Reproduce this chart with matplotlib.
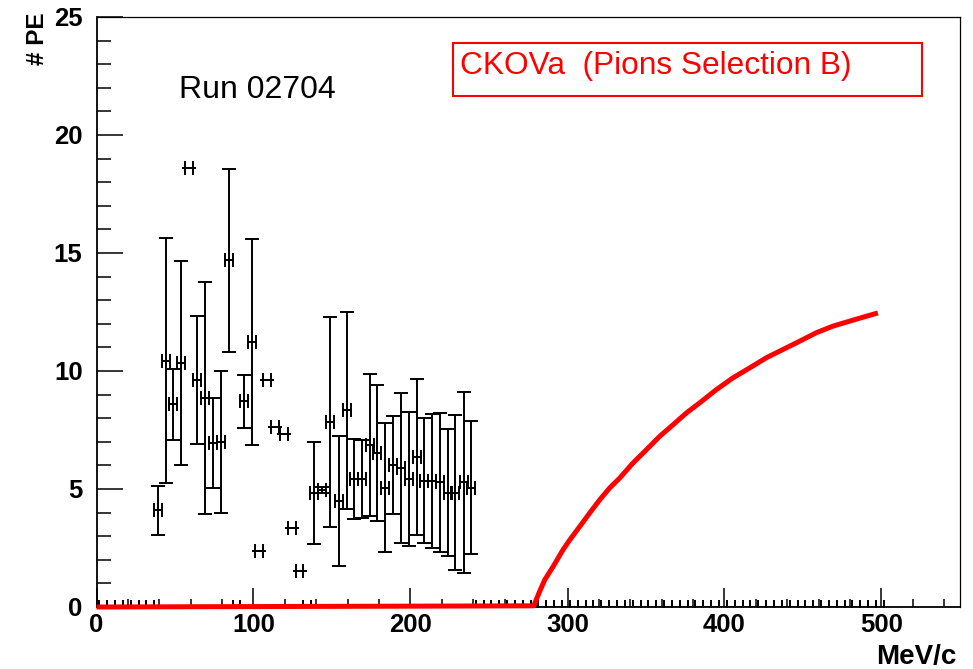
import matplotlib
matplotlib.use("Agg")
import matplotlib.pyplot as plt
from matplotlib.patches import Rectangle

# points mesures (MeV/c, # PE, erreur)
p_mev = [39.3, 44.2, 48.9, 54.0, 59.1, 64.0, 68.9, 74.2, 79.2, 84.2, 94.1, 99.2, 103.6, 108.5,
         113.9, 119.4, 124.3, 129.3, 138.6, 143.6, 148.6, 154.2, 159.3, 164.1, 169.2, 174.1,
         178.7, 183.6, 188.7, 193.8, 198.9, 204.0, 208.7, 213.7, 218.7, 223.8, 228.6, 233.9, 238.8]
pe = [4.09, 10.44, 8.59, 10.33, 18.59, 9.61, 8.86, 6.95, 6.99, 14.69, 8.71, 11.24, 2.36, 9.61,
      7.61, 7.33, 3.35, 1.54, 4.83, 4.97, 7.85, 4.49, 8.33, 5.42, 5.42, 6.88,
      6.52, 5.06, 6.01, 5.89, 5.42, 6.34, 5.35, 5.35, 5.29, 4.85, 4.85, 5.28, 5.06]
pe_err = [1.05, 5.20, 1.51, 4.33, 0, 2.72, 4.93, 1.89, 3.01, 3.87, 1.12, 4.37, 0, 0,
          0, 0, 0, 0, 2.18, 0.13, 4.44, 2.77, 4.17, 1.71, 1.65, 3.01,
          2.87, 2.74, 2.07, 3.17, 2.85, 3.30, 2.65, 2.84, 2.94, 2.69, 3.30, 3.85, 2.82]

# bins vides (PE = 0)
p_vide = [4.3, 9.3, 14.3, 19.3, 24.3, 29.3, 34.3, 89.2, 134.3,
          244, 249, 254, 259, 264, 269, 274, 279, 284, 289, 294, 299, 304, 309, 314, 319,
          324, 329, 334, 339, 344, 349, 354, 359, 364, 369, 374, 379, 384, 389, 394, 399,
          404, 409, 414, 419, 424, 429, 434, 439, 444, 449, 454, 459, 464, 469, 474, 479,
          484, 489, 494, 499]
pe_vide = [0] * len(p_vide)

# courbe attendue (rouge)
p_th = [0, 278.5, 282.0, 285.5, 290.8, 297.1, 301.4, 307.8, 314.1, 320.5, 326.8, 333.2, 341.7,
        350.2, 358.7, 367.2, 375.7, 384.2, 394.8, 405.4, 416.0, 426.6, 437.2, 447.8, 458.4,
        469.0, 479.6, 490.3, 497.7]
pe_th = [0, 0.05, 0.62, 1.15, 1.71, 2.42, 2.84, 3.41, 3.98, 4.54, 5.04, 5.46, 6.10,
         6.66, 7.23, 7.72, 8.22, 8.65, 9.21, 9.71, 10.13, 10.56, 10.91, 11.26, 11.62,
         11.90, 12.11, 12.32, 12.46]

fig = plt.figure(figsize=(9.73, 6.69), dpi=100)
ax = fig.add_axes([96.5 / 973, 62 / 669, (960 - 96.5) / 973, (607 - 17) / 669])

ax.errorbar(p_vide, pe_vide, xerr=2.5, fmt='none', ecolor='black', elinewidth=1.4,
            capsize=5, capthick=1.4, zorder=3)
ax.errorbar(p_mev, pe, xerr=2.5, yerr=pe_err, fmt='none', ecolor='black', elinewidth=1.4,
            capsize=5, capthick=1.4, zorder=3)
ax.plot(p_th, pe_th, color='red', linewidth=3.6, solid_capstyle='butt',
        solid_joinstyle='round', clip_on=False, zorder=6)

ax.set_xlim(0, 550)
ax.set_ylim(0, 25)
ax.set_xticks([0, 100, 200, 300, 400, 500])
ax.set_xticks(range(0, 551, 20), minor=True)
ax.set_yticks([0, 5, 10, 15, 20, 25])
ax.set_yticks(range(0, 26), minor=True)

police = 'Liberation Sans'
ax.tick_params(axis='both', which='both', direction='in', top=False, right=False, color='black')
ax.tick_params(axis='y', which='major', length=19, width=1.1, pad=10)
ax.tick_params(axis='y', which='minor', length=10, width=1.1)
ax.tick_params(axis='x', which='major', length=14, width=1.1, pad=4)
ax.tick_params(axis='x', which='minor', length=6, width=1.1)
for lab in ax.get_xticklabels() + ax.get_yticklabels():
    lab.set_fontfamily(police)
    lab.set_fontweight('bold')
    lab.set_fontsize(18.5)

ax.spines['left'].set_linewidth(1.3)
ax.spines['bottom'].set_linewidth(1.3)
ax.spines['top'].set_linewidth(0.9)
ax.spines['right'].set_linewidth(0.9)

fig.text(957 / 973, 1 - 657 / 669, 'MeV/c', ha='right', va='center',
         fontfamily=police, fontweight='bold', fontsize=20)
fig.text(37 / 973, 1 - 12 / 669, '# PE', ha='center', va='top', rotation=90,
         fontfamily=police, fontweight='bold', fontsize=17.5)

fig.text(179 / 973, 1 - 98 / 669, 'Run 02704', ha='left', va='baseline',
         fontfamily=police, fontsize=23)

fig.patches.append(Rectangle((453 / 973, 1 - 96 / 669), (922 - 453) / 973, (96 - 43) / 669,
                             transform=fig.transFigure, fill=False, edgecolor='red',
                             linewidth=1.5, zorder=10))
fig.text(460 / 973, 1 - 74 / 669, 'CKOVa  (Pions Selection B)', ha='left', va='baseline',
         fontfamily=police, fontsize=22.8, color='red')

fig.savefig('out.png', dpi=100)
